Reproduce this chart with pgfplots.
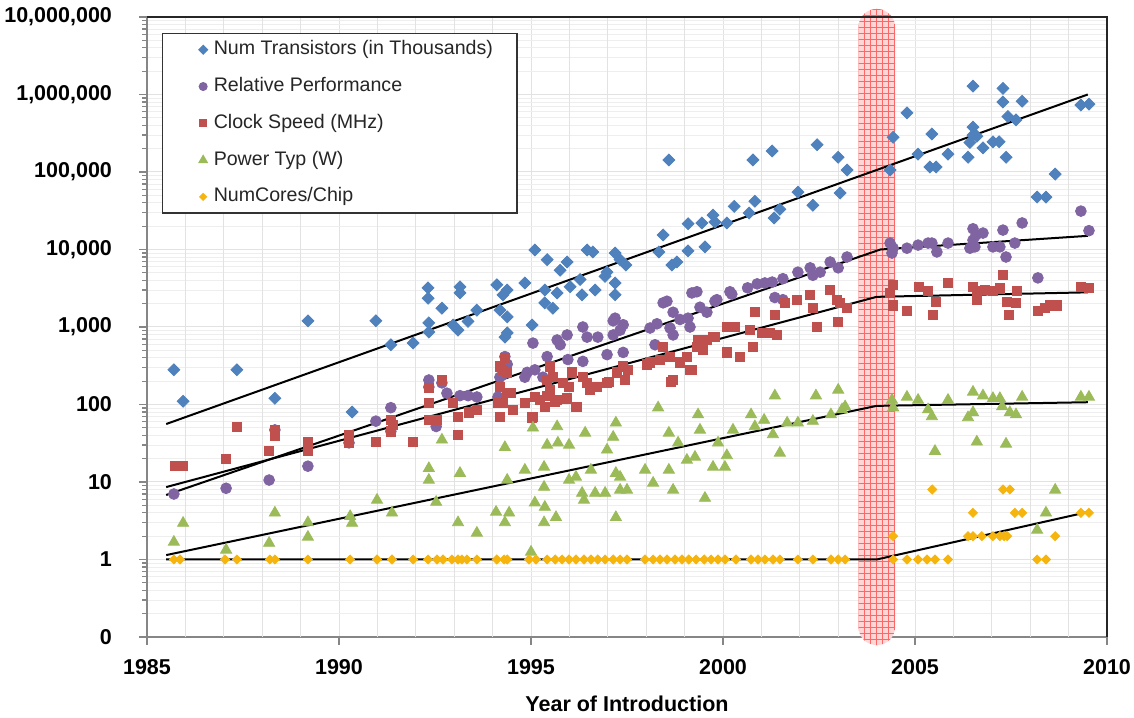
\documentclass[border=0pt]{standalone}
\usepackage{fontspec}
\setmainfont{Liberation Sans}
\usepackage{pgfplots}
\pgfplotsset{compat=1.18}
\usetikzlibrary{patterns}

\definecolor{cTrans}{HTML}{4F81BD}
\definecolor{cPerf}{HTML}{8064A2}
\definecolor{cClock}{HTML}{C0504D}
\definecolor{cPower}{HTML}{9BBB59}
\definecolor{cCores}{HTML}{F6B40E}
\definecolor{gridmajor}{HTML}{E2E2E2}
\definecolor{gridminor}{HTML}{EEEEEE}
\definecolor{axisgrey}{HTML}{868686}

% legend swatch: one smaller mark, indented from the box edge
\pgfplotsset{lgimg/.style={legend image code/.code={\path (0pt,0pt) (13pt,0pt);\draw[mark repeat=2,mark phase=2,##1,every mark/.append style={scale=0.72}] plot coordinates {(0pt,0pt) (10pt,0pt) (13pt,0pt)};}}}

\begin{document}
\begin{tikzpicture}
\path[use as bounding box] (-73.5pt,-40pt) rectangle (493.5pt,318.5pt);
\begin{axis}[
  at={(0,0)}, anchor=south west,
  scale only axis, width=480pt, height=310pt,
  xmin=1985, xmax=2010,
  ymode=log, ymin=0.1, ymax=1e7,
  clip=false,
  axis x line*=bottom, axis y line*=left,
  axis line style={axisgrey, line width=1pt},
  tick align=outside,
  major tick length=4pt, minor tick length=2.5pt,
  tick style={axisgrey, line width=0.6pt},
  xtick={1985,1990,1995,2000,2005,2010},
  xticklabels={1985,1990,1995,2000,2005,2010},
  extra x ticks={1986,1987,1988,1989,1991,1992,1993,1994,1996,1997,1998,1999,2001,2002,2003,2004,2006,2007,2008,2009},
  extra x tick labels={},
  extra x tick style={major tick length=0pt, grid=major},
  ytick={0.1,1,10,100,1000,10000,100000,1000000,10000000},
  yticklabels={0,1,10,100,{1,000},{10,000},{100,000},{1,000,000},{10,000,000}},
  minor ytick={0.2,0.3,0.4,0.5,0.6,0.7,0.8,0.9,
    2,3,4,5,6,7,8,9,20,30,40,50,60,70,80,90,
    200,300,400,500,600,700,800,900,2000,3000,4000,5000,6000,7000,8000,9000,
    2e4,3e4,4e4,5e4,6e4,7e4,8e4,9e4,2e5,3e5,4e5,5e5,6e5,7e5,8e5,9e5,
    2e6,3e6,4e6,5e6,6e6,7e6,8e6,9e6},
  xmajorgrids=true, ymajorgrids=true, yminorgrids=true,
  major grid style={gridmajor, line width=0.5pt},
  minor grid style={gridminor, line width=0.4pt},
  ticklabel style={font=\bfseries\fontsize{10.75}{12}\selectfont, text=black},
  xticklabel style={anchor=center, yshift=-11pt},
  yticklabel style={anchor=east, xshift=-10pt},
  xlabel={Year of Introduction},
  xlabel style={font=\bfseries\fontsize{10.75}{12}\selectfont, at={(rel axis cs:0.5,0)}, anchor=center, yshift=-33.5pt},
  legend cell align=left,
  legend style={at={(rel axis cs:0.0156,0.974)}, anchor=north west,
    draw=black!80, line width=0.6pt, fill=white,
    font=\fontsize{9.8}{12}\selectfont, text=black!85,
    inner xsep=10pt, inner ysep=1pt, row sep=4.4pt,
    nodes={text height=7.5pt, text depth=2.5pt, inner ysep=2pt}},
]

% 2004 power wall band
\fill[red!16, rounded corners=9pt] (rel axis cs:0.7412,-0.013) rectangle (rel axis cs:0.7792,1.013);
\fill[pattern=grid, pattern color=red!60, rounded corners=9pt] (rel axis cs:0.7412,-0.013) rectangle (rel axis cs:0.7792,1.013);
\draw[black!85, line width=1pt] (rel axis cs:0,1) -- (rel axis cs:1,1) -- (rel axis cs:1,0);

% Number of transistors (thousands)
\addplot[only marks, lgimg, mark=square*, mark size=2.1pt, mark options={rotate=45, fill=cTrans, draw=cTrans}] coordinates {
(1985.70,280) (1985.94,110) (1987.34,280) (1988.33,120) (1989.19,1200) (1990.34,80)
(1990.96,1200) (1991.35,590) (1991.93,620) (1992.32,3200) (1992.32,2350) (1992.34,1130)
(1992.34,860) (1992.68,1750) (1992.97,1060) (1993.10,910) (1993.15,3300) (1993.15,2750)
(1993.36,1180) (1993.59,1650) (1994.11,3500) (1994.27,2600) (1994.38,3000) (1994.19,1650)
(1994.38,1350) (1994.38,840) (1994.32,740) (1995.03,1060) (1995.10,9850) (1995.42,7400)
(1994.84,3700) (1995.36,3000) (1995.36,2050) (1995.57,1750) (1995.76,5400) (1995.94,6900)
(1996.02,3300) (1995.68,2750) (1996.28,4100) (1996.33,2600) (1996.46,9850) (1996.61,9300)
(1996.67,3000) (1997.19,9000) (1997.32,7400) (1997.47,6300) (1996.98,5100) (1996.93,4500)
(1997.19,3700) (1997.19,2600) (1998.44,15400) (1998.59,143000) (1998.33,9300) (1998.80,6900)
(1998.67,6300) (1999.09,21500) (1999.09,9600) (1999.45,22000) (1999.53,10800) (1999.74,27800)
(1999.79,22600) (2000.10,22000) (2000.29,36000) (2000.68,29500) (2000.83,42000) (2000.78,143000)
(2001.28,187000) (2001.33,25500) (2001.48,33000) (2001.95,55000) (2002.34,37200) (2002.45,225000)
(2003.00,155000) (2003.05,53500) (2003.23,106000) (2004.35,106000) (2004.43,280000) (2004.79,580000)
(2005.08,170000) (2005.44,310000) (2005.39,116000) (2005.55,116000) (2005.86,170000) (2006.38,155000)
(2006.51,1280000) (2006.51,380000) (2006.51,300000) (2006.61,290000) (2006.43,240000) (2006.77,205000)
(2007.03,245000) (2007.19,245000) (2007.37,155000) (2007.29,1200000) (2007.29,800000) (2007.79,820000)
(2007.42,520000) (2007.63,470000) (2008.65,94000) (2008.18,47500) (2008.41,47500) (2009.32,730000)
(2009.53,750000)
};
\addlegendentry{Num Transistors (in Thousands)}

% Relative performance
\addplot[only marks, lgimg, mark=*, mark size=2.7pt, mark options={fill=cPerf, draw=cPerf}] coordinates {
(1985.70,7) (1987.06,8.3) (1988.18,10.6) (1988.33,47) (1989.19,16) (1990.26,32)
(1990.96,61) (1991.35,91) (1991.35,45) (1992.34,207) (1992.34,168) (1992.68,190)
(1992.53,52) (1993.15,130) (1993.36,130) (1993.59,125) (1992.81,140) (1994.19,225)
(1994.32,415) (1994.38,330) (1994.27,245) (1994.14,125) (1995.05,620) (1995.42,415)
(1995.68,680) (1995.76,590) (1995.94,790) (1996.35,1000) (1996.46,740) (1996.35,360)
(1995.31,225) (1994.84,225) (1994.90,260) (1995.10,280) (1995.96,380) (1996.74,740)
(1996.98,440) (1997.19,1300) (1997.14,1200) (1997.14,790) (1997.32,910) (1997.40,1070)
(1997.40,470) (1998.10,970) (1998.28,1100) (1998.23,590) (1998.44,2050) (1998.54,2150)
(1998.62,970) (1998.70,1550) (1998.70,790) (1998.88,1250) (1999.09,1300) (1999.14,1000)
(1999.19,2750) (1999.32,2850) (1999.40,1800) (1999.58,1550) (1999.79,2150) (1999.84,2250)
(2000.18,2850) (2000.23,2650) (2000.64,3200) (2000.89,3600) (2001.09,3700) (2001.28,3800)
(2001.35,2400) (2001.56,2250) (2001.56,4200) (2001.95,5100) (2002.27,5800) (2002.34,4650)
(2002.53,5100) (2002.79,6900) (2003.00,5800) (2003.23,8000) (2004.35,12100) (2004.40,9000)
(2004.43,10400) (2004.79,10400) (2005.08,11400) (2005.34,12100) (2005.44,12100) (2005.57,9300)
(2005.86,12100) (2006.43,10400) (2006.51,18500) (2006.59,15400) (2006.77,16300) (2006.51,13200)
(2006.56,10800) (2007.03,10800) (2007.21,10800) (2007.29,17800) (2007.37,8000) (2007.60,12100)
(2007.79,22000) (2008.20,4300) (2009.32,31300) (2009.53,17500)
};
\addlegendentry{Relative Performance}

% Clock speed (MHz)
\addplot[only marks, lgimg, mark=square*, mark size=2.3pt, mark options={fill=cClock, draw=cClock}] coordinates {
(1985.73,16) (1985.94,16) (1987.06,20) (1987.34,52) (1988.18,25) (1988.33,47)
(1988.33,39) (1989.19,33) (1989.19,25) (1990.26,41) (1990.26,32) (1990.96,33)
(1991.35,63) (1991.41,55) (1991.35,45) (1991.93,33) (1992.34,165) (1992.34,104)
(1992.34,63) (1992.55,63) (1992.68,207) (1992.97,104) (1993.10,70) (1993.10,41)
(1993.39,79) (1993.59,86) (1994.14,104) (1994.19,70) (1994.48,140) (1994.84,104)
(1995.05,70) (1995.42,130) (1995.63,108) (1995.94,120) (1996.17,94) (1995.99,168)
(1996.46,190) (1997.03,195) (1998.65,195) (1994.27,280) (1994.32,400) (1994.19,310)
(1994.38,260) (1994.19,168) (1994.38,140) (1994.27,104) (1994.53,86) (1995.03,68)
(1995.10,125) (1995.23,114) (1995.36,94) (1995.49,154) (1995.57,225) (1995.49,310)
(1995.42,207) (1995.68,114) (1995.83,190) (1996.07,260) (1996.20,94) (1996.35,225)
(1996.54,154) (1996.72,168) (1996.98,190) (1997.24,260) (1997.40,310) (1997.53,280)
(1997.45,207) (1998.02,330) (1998.10,350) (1998.36,380) (1998.44,550) (1998.62,415)
(1998.70,207) (1998.88,350) (1999.14,280) (1999.06,415) (1999.19,280) (1999.32,560)
(1999.35,680) (1999.48,510) (1999.58,680) (1999.74,740) (1999.79,740) (2000.10,1000)
(2000.31,1000) (2000.10,470) (2000.44,415) (2000.70,910) (2000.78,560) (2000.83,1550)
(2001.02,840) (2001.22,840) (2001.35,1430) (2001.41,790) (2001.61,2050) (2001.93,2250)
(2002.27,2600) (2002.34,1750) (2002.45,1000) (2002.79,3000) (2002.97,2250) (2003.00,1150)
(2003.23,1750) (2003.05,2050) (2004.43,3500) (2004.35,2750) (2004.43,1900) (2004.79,1600)
(2005.10,3300) (2005.34,2950) (2005.47,1430) (2005.55,2100) (2005.86,3700) (2006.51,3300)
(2006.61,2950) (2006.61,2250) (2006.82,3000) (2007.03,2950) (2007.21,3150) (2007.29,4650)
(2007.40,2100) (2007.63,2050) (2007.66,2950) (2007.45,1430) (2008.20,1600) (2008.39,1750)
(2008.52,1900) (2008.70,1900) (2009.32,3300) (2009.53,3200)
};
\addlegendentry{Clock Speed (MHz)}

% Typical power (W)
\addplot[only marks, lgimg, mark=triangle*, mark size=3.2pt, mark options={fill=cPower, draw=cPower}] coordinates {
(1985.70,1.68) (1985.94,2.95) (1987.06,1.33) (1988.18,1.63) (1988.33,4) (1989.19,3)
(1989.19,1.95) (1990.29,3.6) (1990.34,2.95) (1990.99,5.85) (1991.38,4) (1992.34,15)
(1992.34,10.6) (1992.53,5.5) (1992.68,35) (1993.15,13) (1993.10,3) (1993.59,2.2)
(1994.09,4.1) (1994.32,28) (1994.38,10.6) (1994.43,4) (1994.32,3) (1994.84,14.3)
(1995.05,50) (1995.10,5.4) (1995.00,1.25) (1995.34,15.6) (1995.34,8.6) (1995.36,4.75)
(1995.34,3) (1995.68,52) (1995.65,3.5) (1995.42,30) (1995.70,32) (1995.99,30)
(1996.41,43) (1995.99,10.6) (1996.17,11.6) (1996.38,5.85) (1996.33,7.2) (1996.67,7.2)
(1996.93,7.2) (1996.56,14.3) (1996.98,26) (1997.14,38) (1997.21,58) (1997.21,13)
(1997.32,11.6) (1997.21,3.5) (1997.32,7.9) (1997.50,7.9) (1997.97,14.3) (1998.18,9.7)
(1998.31,91) (1998.59,43) (1998.83,32) (1998.59,14.3) (1998.70,7.9) (1999.06,19.2)
(1999.27,21) (1999.35,74) (1999.40,47) (1999.53,6.2) (1999.74,15.6) (1999.87,32)
(2000.05,15.6) (2000.10,22) (2000.26,47) (2000.73,74) (2000.83,52) (2001.07,63)
(2001.30,41) (2001.35,130) (2001.48,23.7) (2001.67,58) (2001.95,58) (2002.34,61)
(2002.42,130) (2002.81,74) (2003.00,154) (2003.10,86) (2003.18,94) (2004.40,114)
(2004.43,91) (2004.79,125) (2005.08,114) (2005.34,86) (2005.44,70) (2005.52,25)
(2005.86,114) (2006.38,68) (2006.51,79) (2006.51,145) (2006.61,33) (2006.77,130)
(2007.03,120) (2007.21,120) (2007.27,94) (2007.37,31) (2007.47,79) (2007.63,74)
(2007.79,125) (2008.18,2.4) (2008.41,4) (2008.65,7.9) (2009.32,125) (2009.53,125)
};
\addlegendentry{Power Typ (W)}

% Number of cores per chip
\addplot[only marks, lgimg, mark=square*, mark size=1.6pt, mark options={rotate=45, fill=cCores, draw=cCores}] coordinates {
(1985.70,1) (1985.86,1) (1987.03,1) (1987.34,1) (1988.20,1) (1988.33,1) (1989.19,1)
(1990.29,1) (1990.99,1) (1991.38,1) (1991.93,1) (1992.32,1) (1992.55,1) (1992.71,1)
(1992.94,1) (1993.10,1) (1993.20,1) (1993.33,1) (1993.59,1) (1994.11,1) (1994.30,1)
(1994.38,1) (1994.95,1) (1995.13,1) (1995.42,1) (1995.63,1) (1995.81,1) (1995.99,1)
(1996.17,1) (1996.38,1) (1996.56,1) (1996.74,1) (1996.93,1) (1997.14,1) (1997.32,1)
(1997.50,1) (1997.97,1) (1998.18,1) (1998.36,1) (1998.54,1) (1998.75,1) (1998.93,1)
(1999.11,1) (1999.30,1) (1999.51,1) (1999.69,1) (1999.87,1) (2000.05,1) (2000.34,1)
(2000.73,1) (2000.91,1) (2001.09,1) (2001.30,1) (2001.48,1) (2001.95,1) (2002.34,1)
(2002.81,1) (2003.00,1) (2003.18,1) (2004.43,1) (2004.43,2) (2004.79,1) (2005.08,1)
(2005.31,1) (2005.52,1) (2005.86,1) (2005.45,8) (2006.51,4) (2007.29,8) (2007.47,8)
(2007.60,4) (2007.79,4) (2006.38,2) (2006.51,2) (2006.74,2) (2007.03,2) (2007.21,2)
(2007.32,2) (2007.40,2) (2008.18,1) (2008.41,1) (2008.65,2) (2009.32,4) (2009.53,4)
};
\addlegendentry{NumCores/Chip}

% Trend lines
\addplot[black, line width=1pt, no marks, forget plot] coordinates {(1985.5,56) (2009.5,1000000)};
\addplot[black, line width=1pt, no marks, forget plot] coordinates {(1985.5,6.8) (2004.1,10000) (2009.5,15000)};
\addplot[black, line width=1pt, no marks, forget plot] coordinates {(1985.5,8.6) (2004.0,2450) (2009.5,2800)};
\addplot[black, line width=1pt, no marks, forget plot] coordinates {(1985.5,1.14) (2004.0,96) (2009.5,107)};
\addplot[black, line width=1pt, no marks, forget plot] coordinates {(1985.5,1) (2004.0,1) (2009.5,4.1)};
\end{axis}
\end{tikzpicture}
\end{document}
